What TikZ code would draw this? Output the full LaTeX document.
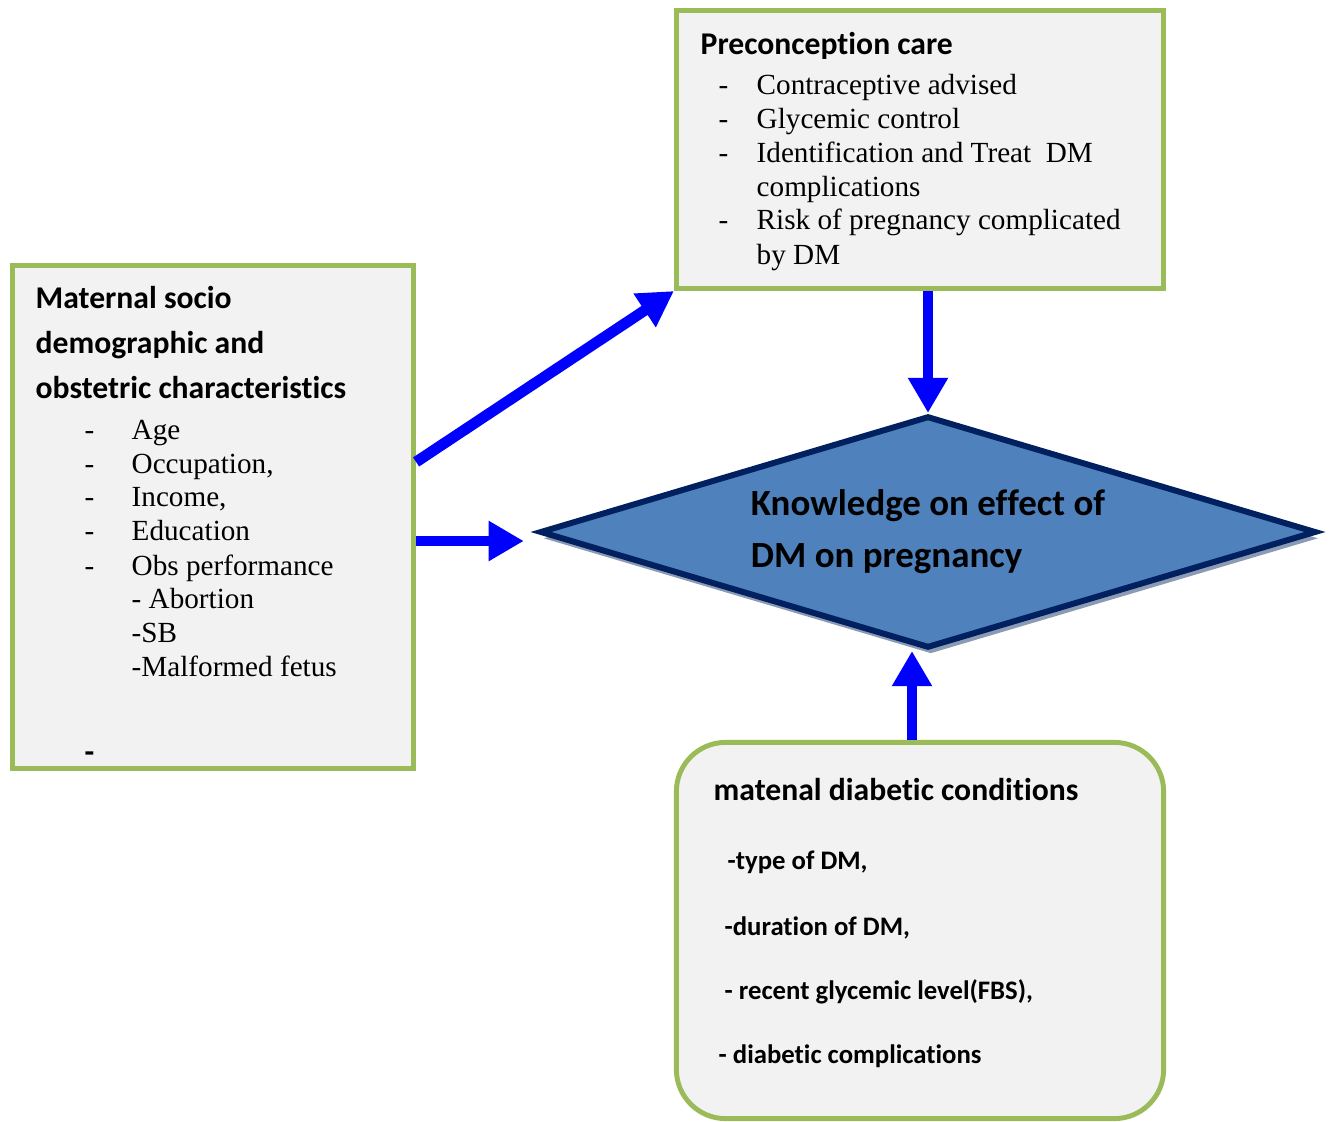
\documentclass[tikz,border=0pt]{standalone}
\usepackage{fontspec}
\setmainfont{Liberation Serif}
\newfontfamily\calibri[Ligatures=NoCommon]{Carlito}
\usetikzlibrary{positioning,arrows.meta,shapes.geometric,shadows}
\definecolor{boxgreen}{RGB}{155,187,89}
\definecolor{boxgray}{RGB}{242,242,242}
\definecolor{diafill}{RGB}{79,129,189}
\definecolor{dianavy}{RGB}{0,32,96}
\definecolor{diashadow}{RGB}{140,155,180}
\tikzset{
  panel/.style={draw=boxgreen, fill=boxgray, line width=1.4pt, inner sep=0pt},
  kdiamond/.style={diamond, draw=dianavy, fill=diafill, line width=1.7pt, aspect=3.3,
    inner sep=0pt, minimum width=7.76cm, minimum height=2.32cm, align=left,
    font=\calibri\bfseries\fontsize{10.5}{14.8}\selectfont,
    drop shadow={shadow xshift=0.8pt, shadow yshift=-1.8pt, fill=diashadow, opacity=1}},
  flow/.style={blue, line width=3.1pt, -{Triangle[length=10pt,width=10.8pt]}},
  head/.style={font=\calibri\bfseries\fontsize{9}{12.8}\selectfont, anchor=base west, inner sep=0pt},
  item/.style={font=\fontsize{8.3}{9.7}\selectfont, anchor=base west, inner sep=0pt},
  subitem/.style={font=\calibri\bfseries\fontsize{7.6}{9}\selectfont, anchor=base west, inner sep=0pt},
}

\begin{document}
\begin{tikzpicture}[x=0.01cm, y=-0.01cm]
    \useasboundingbox (0,0) rectangle (1331,1122);

    % Boxes
    \node[panel, minimum width=4.01cm, minimum height=5.03cm] (socbox) at (213,517) {};
    \node[panel, minimum width=4.87cm, minimum height=2.78cm] (pcbox) at (920,149.5) {};
    \node[panel, rounded corners=14pt, minimum width=4.87cm, minimum height=3.76cm] (dmbox) at (920,930.5) {};

    % Knowledge diamond
    \node[kdiamond] (kdia) at (928,532) {Knowledge on effect of\\DM on pregnancy};

    % Maternal socio demographic box
    \foreach \y/\txt [count=\i] in {309/Maternal socio, 354/demographic and, 399/obstetric characteristics}
        \node[head] (soctitle\i) at (35,\y) {\txt};
    \foreach \y/\txt [count=\i] in {440/Age, 474/{Occupation,}, 507/{Income,}, 541/Education, 575/Obs performance} {
        \node[item] (socdash\i) at (84,\y) {-};
        \node[item] (socitem\i) at (131,\y) {\txt};
    }
    \foreach \y/\txt [count=\i] in {608/- Abortion, 642/-SB, 676/-Malformed fetus}
        \node[item] (socsub\i) at (131,\y) {\txt};
    \node[head] (socend) at (84,762) {-};

    % Preconception care box
    \node[head] (pctitle) at (700,55) {Preconception care};
    \foreach \y/\txt [count=\i] in {95/Contraceptive advised, 129/Glycemic control, 163/Identification and Treat~ DM, 230/Risk of pregnancy complicated} {
        \node[item] (pcdash\i) at (718,\y) {-};
        \node[item] (pcitem\i) at (756,\y) {\txt};
    }
    \node[item] (pcwrap1) at (756,197) {complications};
    \node[item] (pcwrap2) at (756,265) {by DM};

    % Maternal diabetic conditions box
    \node[head] (dmtitle) at (713,800) {matenal diabetic conditions};
    \foreach \x/\y/\txt [count=\i] in {727/869/{-type of DM,}, 724/935/{-duration of DM,}, 724/999/{- recent glycemic level(FBS),}, 718/1063/- diabetic complications}
        \node[subitem] (dmitem\i) at (\x,\y) {\txt};

    % Arrows
    \draw[flow] ([yshift=0.55cm]socbox.east) -- (pcbox.south west);
    \draw[flow, shorten >=0.13cm] ([yshift=-0.24cm]socbox.east) -- ([yshift=-0.24cm]socbox.east -| kdia.west);
    \draw[flow] (pcbox.south -| kdia.north) -- (kdia.north);
    \draw[flow] ([xshift=-0.08cm]dmbox.north) -- ([xshift=-0.08cm]dmbox.north |- kdia.south);
\end{tikzpicture}
\end{document}
